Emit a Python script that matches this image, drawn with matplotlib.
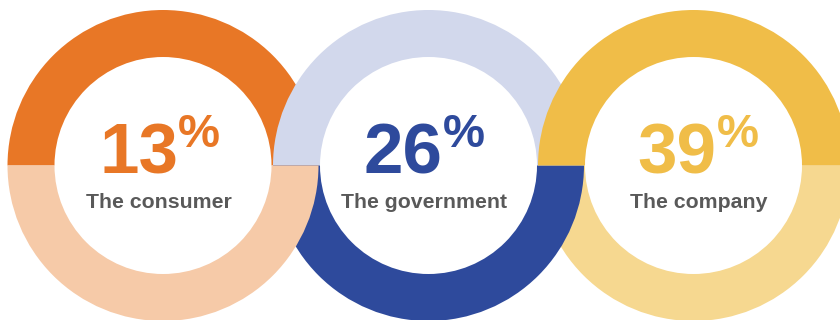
import matplotlib.pyplot as plt
from matplotlib.patches import Wedge

# data
labels = ["The consumer", "The government", "The company"]
values = [13, 26, 39]
ring_split = [50, 50]  # top half / bottom half share of each ring
top_colors = ["#E87726", "#D2D8EC", "#F0BD48"]
bottom_colors = ["#F6CAA8", "#2E4A9C", "#F6D890"]
number_colors = ["#E87726", "#2E4A9C", "#F0BD48"]

# layout (pixels, figure is 840x320)
W, H = 840, 320
centers_x = [163, 428.5, 693.5]
center_y = H - 165.5
r_outer = 155.5
ring_width = 47
split_x = [178, 443, 716.5]
label_x = [158.5, 424.5, 699]

fig = plt.figure(figsize=(8.4, 3.2), dpi=100)
ax = fig.add_axes([0, 0, 1, 1])
ax.set_xlim(0, W)
ax.set_ylim(0, H)
ax.axis("off")

top_angle = 360 * ring_split[0] / sum(ring_split)
n = len(values)
for i in range(n):
    cx = centers_x[i]
    top = Wedge((cx, center_y), r_outer, 0, top_angle, width=ring_width,
                facecolor=top_colors[i], linewidth=0, zorder=1 + i)
    bottom = Wedge((cx, center_y), r_outer, top_angle, 360, width=ring_width,
                   facecolor=bottom_colors[i], linewidth=0, zorder=1 + (n - 1 - i))
    ax.add_patch(top)
    ax.add_patch(bottom)

    ax.text(split_x[i], H - 174, str(values[i]), ha="right", va="baseline",
            fontsize=51, fontweight="bold", family="Liberation Sans",
            color=number_colors[i], zorder=10)
    ax.text(split_x[i], H - 147, "%", ha="left", va="baseline",
            fontsize=34, fontweight="bold", family="Liberation Sans",
            color=number_colors[i], zorder=10)
    ax.text(label_x[i], H - 208.5, labels[i], ha="center", va="baseline",
            fontsize=15.3, fontweight="bold", family="Liberation Sans",
            color="#595959", zorder=10)

fig.savefig("out.png", dpi=100)
